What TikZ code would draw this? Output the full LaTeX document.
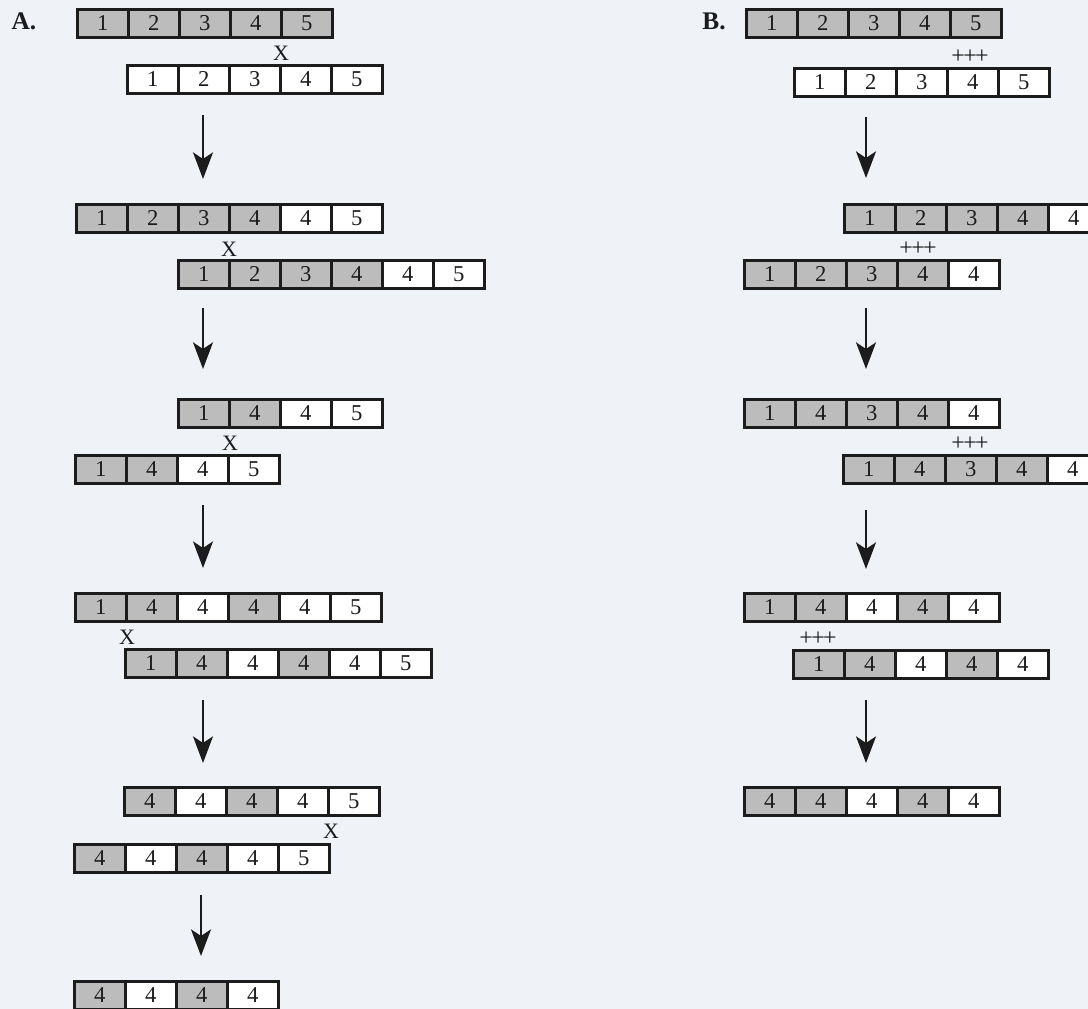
\documentclass[tikz,border=0pt]{standalone}
\usepackage{fontspec}
\setmainfont{Liberation Serif}
\usetikzlibrary{arrows.meta}
\definecolor{bg}{RGB}{239,243,247}
\definecolor{cellgray}{RGB}{188,188,188}
\definecolor{ink}{RGB}{28,28,28}
\tikzset{
  cell/.style={draw=ink, line width=1.9pt, minimum width=38.25pt, minimum height=21pt,
    inner sep=0pt, anchor=north west, text=ink, font=\fontsize{17}{19}\selectfont},
  crosslbl/.style={text=ink, inner sep=0pt, font=\fontsize{16.5}{18}\selectfont},
  pluslbl/.style={text=ink, inner sep=0pt, font=\fontsize{18}{20}\selectfont},
  panel/.style={text=ink, inner sep=0pt, font=\fontsize{19}{21}\selectfont\bfseries},
  flow/.style={draw=ink, line width=1.6pt, -{Stealth[length=20pt,width=15pt,inset=5pt]}}
}
% \cellrow{name}{x}{y}{colour/label,...}
\newcommand\cellrow[4]{%
  \foreach \cc/\tt [count=\i from 0] in {#4}{%
    \node[cell, fill=\cc] (#1c\i) at ({#2+\i*51},{#3}) {\tt};
  }%
}
\newcommand\plusses{+\kern-1.2pt+\kern-1.2pt+}
\begin{document}
\begin{tikzpicture}[x=0.75pt,y=-0.75pt]
\useasboundingbox (0,0) rectangle (1088,1009);
\fill[bg] (0,0) rectangle (1088,1009);

% ---------------- Panel A ----------------
\node[panel] (labA) at (24,21) {A.};
\cellrow{aA}{76}{8}{cellgray/1,cellgray/2,cellgray/3,cellgray/4,cellgray/5}
\node[crosslbl] (xA1) at (281,53) {X};
\cellrow{aB}{126}{64}{white/1,white/2,white/3,white/4,white/5}
\coordinate (a1s) at (203,115); \coordinate (a1e) at (203,179);
\draw[flow] (a1s) -- (a1e);

\cellrow{aC}{75}{203}{cellgray/1,cellgray/2,cellgray/3,cellgray/4,white/4,white/5}
\node[crosslbl] (xA2) at (229,249) {X};
\cellrow{aD}{177}{259}{cellgray/1,cellgray/2,cellgray/3,cellgray/4,white/4,white/5}
\coordinate (a2s) at (203,308); \coordinate (a2e) at (203,369);
\draw[flow] (a2s) -- (a2e);

\cellrow{aE}{177}{398}{cellgray/1,cellgray/4,white/4,white/5}
\node[crosslbl] (xA3) at (230,443) {X};
\cellrow{aF}{74}{454}{cellgray/1,cellgray/4,white/4,white/5}
\coordinate (a3s) at (203,505); \coordinate (a3e) at (203,568);
\draw[flow] (a3s) -- (a3e);

\cellrow{aG}{74}{592}{cellgray/1,cellgray/4,white/4,cellgray/4,white/4,white/5}
\node[crosslbl] (xA4) at (127,637) {X};
\cellrow{aH}{124}{648}{cellgray/1,cellgray/4,white/4,cellgray/4,white/4,white/5}
\coordinate (a4s) at (203,700); \coordinate (a4e) at (203,763);
\draw[flow] (a4s) -- (a4e);

\cellrow{aI}{123}{786}{cellgray/4,white/4,cellgray/4,white/4,white/5}
\node[crosslbl] (xA5) at (331,831) {X};
\cellrow{aJ}{73}{843}{cellgray/4,white/4,cellgray/4,white/4,white/5}
\coordinate (a5s) at (201,895); \coordinate (a5e) at (201,956);
\draw[flow] (a5s) -- (a5e);

\cellrow{aK}{73}{980}{cellgray/4,white/4,cellgray/4,white/4}

% ---------------- Panel B ----------------
\node[panel] (labB) at (714,21) {B.};
\cellrow{bA}{745}{8}{cellgray/1,cellgray/2,cellgray/3,cellgray/4,cellgray/5}
\node[pluslbl] (pB1) at (970,57) {\plusses};
\cellrow{bB}{793}{67}{white/1,white/2,white/3,white/4,white/5}
\coordinate (b1s) at (866,117); \coordinate (b1e) at (866,178);
\draw[flow] (b1s) -- (b1e);

\cellrow{bC}{843}{203}{cellgray/1,cellgray/2,cellgray/3,cellgray/4,white/4}
\node[pluslbl] (pB2) at (918,249) {\plusses};
\cellrow{bD}{743}{259}{cellgray/1,cellgray/2,cellgray/3,cellgray/4,white/4}
\coordinate (b2s) at (866,308); \coordinate (b2e) at (866,369);
\draw[flow] (b2s) -- (b2e);

\cellrow{bE}{743}{398}{cellgray/1,cellgray/4,cellgray/3,cellgray/4,white/4}
\node[pluslbl] (pB3) at (970,444) {\plusses};
\cellrow{bF}{842}{454}{cellgray/1,cellgray/4,cellgray/3,cellgray/4,white/4}
\coordinate (b3s) at (866,510); \coordinate (b3e) at (866,569);
\draw[flow] (b3s) -- (b3e);

\cellrow{bG}{743}{592}{cellgray/1,cellgray/4,white/4,cellgray/4,white/4}
\node[pluslbl] (pB4) at (818,639) {\plusses};
\cellrow{bH}{792}{649}{cellgray/1,cellgray/4,white/4,cellgray/4,white/4}
\coordinate (b4s) at (866,700); \coordinate (b4e) at (866,763);
\draw[flow] (b4s) -- (b4e);

\cellrow{bI}{743}{786}{cellgray/4,cellgray/4,white/4,cellgray/4,white/4}
\end{tikzpicture}
\end{document}
